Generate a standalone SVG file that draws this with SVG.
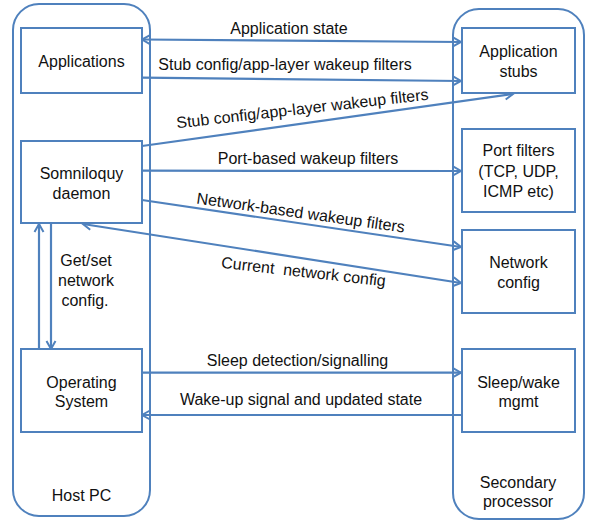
<svg xmlns="http://www.w3.org/2000/svg" width="589" height="521" viewBox="0 0 589 521">
<style>
.box{fill:#fff;stroke:#4F81BD;stroke-width:2}
.cont{fill:none;stroke:#4F81BD;stroke-width:2}
.c{fill:none;stroke:#4F81BD;stroke-width:2.2}
text{font-family:"Liberation Sans",Arial,sans-serif;font-size:16px;fill:#111;text-anchor:middle}
</style>
<defs>
<marker id="ah" markerUnits="userSpaceOnUse" markerWidth="12" markerHeight="12" viewBox="0 0 12 12" refX="10" refY="6" orient="auto-start-reverse">
<path d="M2,1.5 L10,6 L2,10.5" fill="none" stroke="#4F81BD" stroke-width="2"/>
</marker>
</defs>
<rect width="589" height="521" fill="#fff"/>
<g id="host-pc">
<rect class="cont" x="13" y="4" width="137" height="512" rx="26"/>
<text x="81.5" y="501">Host PC</text>
</g>
<g id="secondary-processor">
<rect class="cont" x="453" y="9" width="131" height="510" rx="26"/>
<text x="518" y="488">Secondary</text>
<text x="518" y="507">processor</text>
</g>
<g id="connectors">
<line class="c" x1="142" y1="39.5" x2="461" y2="42" marker-start="url(#ah)" marker-end="url(#ah)"/>
<line class="c" x1="142" y1="77.7" x2="461" y2="81" marker-end="url(#ah)"/>
<line class="c" x1="142" y1="146" x2="513" y2="94" marker-end="url(#ah)"/>
<line class="c" x1="142" y1="170.7" x2="461" y2="171" marker-end="url(#ah)"/>
<line class="c" x1="142" y1="200" x2="461" y2="247" marker-end="url(#ah)"/>
<line class="c" x1="83" y1="224" x2="461" y2="283" marker-start="url(#ah)" marker-end="url(#ah)"/>
<line class="c" x1="39" y1="349" x2="39" y2="224" marker-end="url(#ah)"/>
<line class="c" x1="51" y1="224" x2="51" y2="349" marker-end="url(#ah)"/>
<line class="c" x1="142" y1="372.7" x2="461" y2="372.7" marker-end="url(#ah)"/>
<line class="c" x1="461" y1="415" x2="142" y2="415" marker-end="url(#ah)"/>
<text x="289" y="34.3">Application state</text>
<text x="285" y="70">Stub config/app-layer wakeup filters</text>
<text x="303" y="114" transform="rotate(-6.5 303 114)">Stub config/app-layer wakeup filters</text>
<text x="308" y="164.3">Port-based wakeup filters</text>
<text x="300" y="218" transform="rotate(8 300 218)">Network-based wakeup filters</text>
<text x="303" y="277" transform="rotate(6.5 303 277)" xml:space="preserve">Current  network config</text>
<text x="86" y="266">Get/set</text>
<text x="86" y="286">network</text>
<text x="85" y="305.7">config.</text>
<text x="297.5" y="365.7">Sleep detection/signalling</text>
<text x="301" y="405">Wake-up signal and updated state</text>
</g>
<g id="applications">
<rect class="box" x="21" y="28" width="121" height="65"/>
<text x="81.5" y="66.7">Applications</text>
</g>
<g id="somniloquy-daemon">
<rect class="box" x="21" y="141" width="121" height="82"/>
<text x="81.5" y="179">Somniloquy</text>
<text x="81.5" y="199">daemon</text>
</g>
<g id="operating-system">
<rect class="box" x="21" y="349" width="121" height="83"/>
<text x="81.5" y="387.7">Operating</text>
<text x="81.5" y="407">System</text>
</g>
<g id="application-stubs">
<rect class="box" x="462" y="28" width="113" height="65"/>
<text x="518.5" y="56.7">Application</text>
<text x="518.5" y="77.3">stubs</text>
</g>
<g id="port-filters">
<rect class="box" x="462" y="129" width="113" height="83"/>
<text x="518.5" y="156">Port filters</text>
<text x="518.5" y="176.7">(TCP, UDP,</text>
<text x="518.5" y="197.3">ICMP etc)</text>
</g>
<g id="network-config">
<rect class="box" x="462" y="230" width="113" height="83"/>
<text x="518.5" y="268">Network</text>
<text x="518.5" y="288.3">config</text>
</g>
<g id="sleep-wake-mgmt">
<rect class="box" x="462" y="349" width="113" height="83"/>
<text x="518.5" y="387.7">Sleep/wake</text>
<text x="518.5" y="407">mgmt</text>
</g>
</svg>
